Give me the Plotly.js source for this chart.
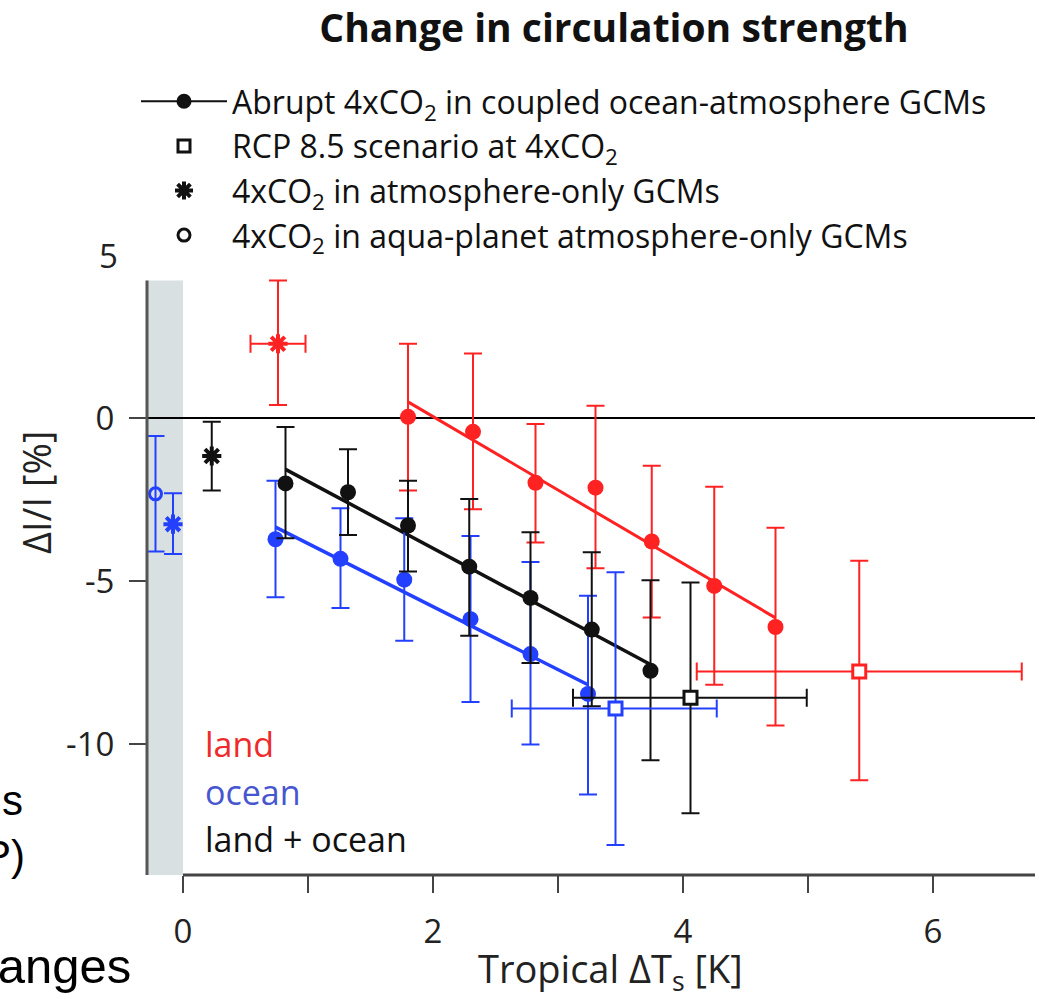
<!DOCTYPE html>
<html>
<head>
<meta charset="utf-8">
<script src="https://cdn.plot.ly/plotly-3.0.1.min.js"></script>
<style>html,body{margin:0;padding:0;background:#fff;}#chart{width:1039px;height:999px;}</style>
</head>
<body>
<div id="chart"></div>
<script>
// ---- Data ----
// Abrupt 4xCO2 coupled GCMs: land (red)
const landT  = [1.80, 2.32, 2.82, 3.30, 3.75, 4.25, 4.74];
const landI  = [0.04, -0.42, -1.98, -2.13, -3.78, -5.14, -6.40];
const landHi = [2.28, 1.98, -0.18, 0.38, -1.46, -2.10, -3.36];
const landLo = [-2.22, -2.79, -3.81, -4.60, -6.11, -8.17, -9.42];
// ocean (blue)
const oceanT  = [0.74, 1.26, 1.77, 2.30, 2.78, 3.24];
const oceanI  = [-3.71, -4.31, -4.95, -6.16, -7.23, -8.45];
const oceanHi = [-1.92, -2.76, -3.07, -3.61, -4.41, -5.44];
const oceanLo = [-5.49, -5.82, -6.82, -8.70, -10.00, -11.53];
// land + ocean (black)
const allT  = [0.82, 1.32, 1.80, 2.29, 2.78, 3.27, 3.74];
const allI  = [-2.00, -2.27, -3.29, -4.55, -5.51, -6.48, -7.74];
const allHi = [-0.27, -0.95, -1.92, -2.48, -3.50, -4.11, -4.97];
const allLo = [-3.68, -3.58, -4.70, -6.67, -7.50, -8.83, -10.48];
// regression lines
const landFitT  = [1.80, 4.74];  const landFitI  = [0.50, -6.12];
const oceanFitT = [0.74, 3.24];  const oceanFitI = [-3.34, -8.17];
const allFitT   = [0.82, 3.74];  const allFitI   = [-1.57, -7.55];
// RCP 8.5 at 4xCO2 (order: land, ocean, land+ocean)
const rcpT   = [5.41, 3.46, 4.06];
const rcpI   = [-7.76, -8.90, -8.57];
const rcpIHi = [-4.37, -4.72, -5.04];
const rcpILo = [-11.10, -13.08, -12.11];
const rcpTLo = [4.11, 2.63, 3.12];
const rcpTHi = [6.71, 4.27, 4.99];
// 4xCO2 atmosphere-only GCMs (order: land, ocean, land+ocean)
const amipT   = [0.76, -0.08, 0.23];
const amipI   = [2.28, -3.25, -1.16];
const amipIHi = [4.22, -2.30, -0.11];
const amipILo = [0.40, -4.16, -2.22];
const amipTLo = [0.54, null, null];
const amipTHi = [0.98, null, null];
// 4xCO2 aqua-planet (ocean only)
const aquaT   = [-0.22];
const aquaI   = [-2.32];
const aquaIHi = [-0.55];
const aquaILo = [-4.09];
// labels
const legendNames = [
  "Abrupt 4xCO<sub>2</sub> in coupled ocean-atmosphere GCMs",
  "RCP 8.5 scenario at 4xCO<sub>2</sub>",
  "4xCO<sub>2</sub> in atmosphere-only GCMs",
  "4xCO<sub>2</sub> in aqua-planet atmosphere-only GCMs"
];
const regionLabels = ["land", "ocean", "land + ocean"];
const xTickVals = [0, 1, 2, 3, 4, 5, 6];
const xTickText = ["0", "", "2", "", "4", "", "6"];
const yTickVals = [-10, -5, 0];
const yTickText = ["-10", "-5", "0"];

// ---- styling ----
const RED = "#ff2222", BLUE = "#2440ff", BLACK = "#111111";
const colors = [RED, BLUE, BLACK];
const FONT = "Open Sans, sans-serif";

const up = (v, hi) => hi.map((h, i) => h == null ? null : h - v[i]);
const dn = (v, lo) => lo.map((l, i) => l == null ? null : v[i] - l);

function errBar(v, hi, lo, color) {
  return {type: "data", symmetric: false, array: up(v, hi), arrayminus: dn(v, lo),
          color: color, thickness: 2, width: 9};
}

const traces = [];
// fit lines
[[landFitT, landFitI, RED, 3], [oceanFitT, oceanFitI, BLUE, 3.5], [allFitT, allFitI, BLACK, 3.5]].forEach(d => {
  traces.push({x: d[0], y: d[1], mode: "lines", line: {color: d[2], width: d[3]}, showlegend: false, hoverinfo: "skip"});
});
// coupled GCM points
[[landT, landI, landHi, landLo, RED], [oceanT, oceanI, oceanHi, oceanLo, BLUE], [allT, allI, allHi, allLo, BLACK]].forEach(d => {
  traces.push({x: d[0], y: d[1], mode: "markers", marker: {symbol: "circle", size: 16, color: d[4]},
    error_y: errBar(d[1], d[2], d[3], d[4]), showlegend: false});
});
// RCP squares
rcpT.forEach((t, i) => {
  traces.push({x: [t], y: [rcpI[i]], mode: "markers",
    marker: {symbol: "square", size: 13, color: "#ffffff", line: {color: colors[i], width: 3}},
    error_y: errBar([rcpI[i]], [rcpIHi[i]], [rcpILo[i]], colors[i]),
    error_x: errBar([t], [rcpTHi[i]], [rcpTLo[i]], colors[i]), showlegend: false});
});
// atmosphere-only asterisks
amipT.forEach((t, i) => {
  const tr = {x: [t], y: [amipI[i]], mode: "markers",
    marker: {symbol: "asterisk-open", size: 16, color: colors[i], line: {color: colors[i], width: 4}},
    error_y: errBar([amipI[i]], [amipIHi[i]], [amipILo[i]], colors[i]), showlegend: false};
  if (amipTLo[i] != null) tr.error_x = errBar([t], [amipTHi[i]], [amipTLo[i]], colors[i]);
  traces.push(tr);
});
// aqua-planet open circle
traces.push({x: aquaT, y: aquaI, mode: "markers",
  marker: {symbol: "circle-open", size: 12, color: BLUE, line: {color: BLUE, width: 3}},
  error_y: errBar(aquaI, aquaIHi, aquaILo, BLUE), showlegend: false});

// legend entries (black)
traces.push({x: [null], y: [null], mode: "lines+markers", name: legendNames[0],
  line: {color: BLACK, width: 2}, marker: {symbol: "circle", size: 15, color: BLACK}});
traces.push({x: [null], y: [null], mode: "markers", name: legendNames[1],
  marker: {symbol: "square-open", size: 12, color: BLACK, line: {color: BLACK, width: 3}}});
traces.push({x: [null], y: [null], mode: "markers", name: legendNames[2],
  marker: {symbol: "asterisk-open", size: 15, color: BLACK, line: {color: BLACK, width: 4}}});
traces.push({x: [null], y: [null], mode: "markers", name: legendNames[3],
  marker: {symbol: "circle-open", size: 12, color: BLACK, line: {color: BLACK, width: 3}}});

const L = 147, T = 255, PW = 888, PH = 620;
const px2x = p => (p - L) / PW;
const py2y = p => (T + PH - p) / PH;

const layout = {
  width: 1039, height: 999,
  margin: {l: L, r: 1039 - L - PW, t: T, b: 999 - T - PH},
  paper_bgcolor: "#ffffff", plot_bgcolor: "rgba(0,0,0,0)",
  font: {family: FONT, size: 28, color: "#222"},
  title: {text: "<b>Change in circulation strength</b>", font: {family: FONT, size: 39, color: "#111"},
          x: 614 / 1039, xanchor: "center", y: 1 - 28 / 999, yanchor: "middle"},
  xaxis: {range: [-0.288, 6.816], showgrid: false, zeroline: false, showline: false,
          tickmode: "array", tickvals: xTickVals, ticktext: xTickText,
          ticks: "outside", ticklen: 17, tickwidth: 2, tickcolor: "#444",
          ticklabelstandoff: 10, tickfont: {family: FONT, size: 33, color: "#222"}},
  yaxis: {range: [-14, 5], showgrid: false, showline: false,
          zeroline: true, zerolinecolor: "#000", zerolinewidth: 2,
          tickmode: "array", tickvals: yTickVals, ticktext: yTickText,
          ticks: "outside", ticklen: 17, tickwidth: 2, tickcolor: "#444",
          ticklabelstandoff: 8, tickfont: {family: FONT, size: 33, color: "#222"}},
  legend: {x: px2x(136), y: py2y(74), xanchor: "left", yanchor: "top",
           bgcolor: "rgba(255,255,255,0)", font: {family: FONT, size: 32, color: "#111"},
           tracegroupgap: 0, itemwidth: 86},
  shapes: [
    {type: "rect", xref: "x", yref: "y", x0: -0.288, x1: 0, y0: -14, y1: 4.22,
     fillcolor: "#d8e0e2", line: {width: 0}, layer: "below"},
    {type: "line", xref: "paper", yref: "y", x0: 0, x1: 0, y0: -14, y1: 4.22,
     line: {color: "#555", width: 3}, layer: "above"},
    {type: "line", xref: "x", yref: "paper", x0: 0, x1: 6.816, y0: 0, y1: 0,
     line: {color: "#444", width: 3}, layer: "above"}
  ],
  annotations: [
    {text: "5", xref: "paper", yref: "y", x: px2x(120), y: 5, xanchor: "right", yanchor: "middle",
     showarrow: false, font: {family: FONT, size: 33, color: "#222"}},
    {text: regionLabels[0], xref: "x", yref: "y", x: 0.16, y: -10.0, xanchor: "left", yanchor: "middle",
     showarrow: false, font: {family: FONT, size: 34, color: "#ee2a2a"}},
    {text: regionLabels[1], xref: "x", yref: "y", x: 0.16, y: -11.47, xanchor: "left", yanchor: "middle",
     showarrow: false, font: {family: FONT, size: 34, color: "#4656d0"}},
    {text: regionLabels[2], xref: "x", yref: "y", x: 0.16, y: -12.9, xanchor: "left", yanchor: "middle",
     showarrow: false, font: {family: FONT, size: 34, color: "#111"}},
    {text: "Tropical ΔT<sub>s</sub> [K]", xref: "paper", yref: "paper", x: px2x(610), y: py2y(970),
     xanchor: "center", yanchor: "middle", showarrow: false, font: {family: FONT, size: 38, color: "#222"}},
    {text: "ΔI/I [%]", xref: "paper", yref: "paper", x: px2x(36), y: py2y(493), textangle: -90,
     xanchor: "center", yanchor: "middle", showarrow: false, font: {family: FONT, size: 38, color: "#222"}},
    {text: "s", xref: "paper", yref: "paper", x: px2x(25), y: py2y(800), xanchor: "right", yanchor: "middle",
     showarrow: false, font: {family: "Liberation Sans, Arial, sans-serif", size: 42, color: "#000"}},
    {text: "P)", xref: "paper", yref: "paper", x: px2x(27), y: py2y(855), xanchor: "right", yanchor: "middle",
     showarrow: false, font: {family: "Liberation Sans, Arial, sans-serif", size: 42, color: "#000"}},
    {text: "changes", xref: "paper", yref: "paper", x: px2x(133), y: py2y(966), xanchor: "right", yanchor: "middle",
     showarrow: false, font: {family: "Liberation Sans, Arial, sans-serif", size: 49, color: "#000"}}
  ]
};

Plotly.newPlot("chart", traces, layout, {displayModeBar: false, staticPlot: true});
</script>
</body>
</html>
